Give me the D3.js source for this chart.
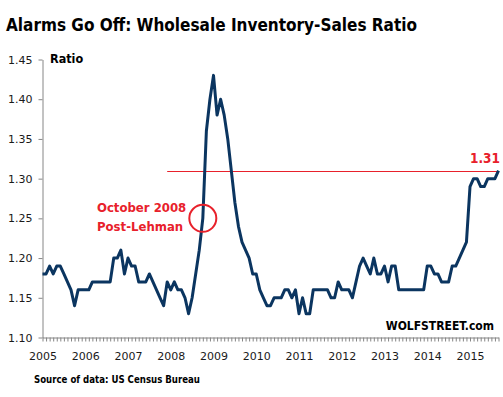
<!DOCTYPE html>
<html>
<head>
<meta charset="utf-8">
<script src="https://cdn.jsdelivr.net/npm/d3@7"></script>
<style>
  body { margin: 0; background: #fff; }
  svg { display: block; font-family: "DejaVu Sans", sans-serif; }
  .bold { font-family: "DejaVu Sans Condensed", "DejaVu Sans", sans-serif; font-weight: bold; }
</style>
</head>
<body>
<div id="chart"></div>
<script>
// wholesale inventory / sales ratio, monthly, Jan 2005 - Sep 2015
const firstMonth = new Date(2005, 0, 1);
const ratio = [
  1.18, 1.18, 1.19, 1.18, 1.19, 1.19, 1.18, 1.17, 1.16, 1.14, 1.16, 1.16, // 2005
  1.16, 1.16, 1.17, 1.17, 1.17, 1.17, 1.17, 1.17, 1.20, 1.20, 1.21, 1.18, // 2006
  1.20, 1.19, 1.19, 1.17, 1.17, 1.17, 1.18, 1.17, 1.16, 1.15, 1.14, 1.17, // 2007
  1.16, 1.17, 1.16, 1.16, 1.15, 1.13, 1.15, 1.18, 1.21, 1.25, 1.36, 1.40, // 2008
  1.43, 1.38, 1.40, 1.38, 1.35, 1.31, 1.27, 1.24, 1.22, 1.21, 1.20, 1.18, // 2009
  1.18, 1.16, 1.15, 1.14, 1.14, 1.15, 1.15, 1.15, 1.16, 1.16, 1.15, 1.16, // 2010
  1.13, 1.15, 1.13, 1.13, 1.16, 1.16, 1.16, 1.16, 1.16, 1.15, 1.15, 1.17, // 2011
  1.16, 1.16, 1.16, 1.15, 1.17, 1.19, 1.20, 1.19, 1.18, 1.20, 1.18, 1.18, // 2012
  1.19, 1.17, 1.19, 1.19, 1.16, 1.16, 1.16, 1.16, 1.16, 1.16, 1.16, 1.16, // 2013
  1.19, 1.19, 1.18, 1.18, 1.17, 1.17, 1.17, 1.19, 1.19, 1.20, 1.21, 1.22, // 2014
  1.29, 1.30, 1.30, 1.29, 1.29, 1.30, 1.30, 1.30, 1.31                    // 2015
];
const yTicks = [1.10, 1.15, 1.20, 1.25, 1.30, 1.35, 1.40, 1.45];
const yearLabels = [2005, 2006, 2007, 2008, 2009, 2010, 2011, 2012, 2013, 2014, 2015];
const refValue = 1.31;
const refFrom = "2007-12";
const eventMonth = "2008-10";
const eventText = ["October 2008", "Post-Lehman"];

const width = 503, height = 397;
const margin = { top: 59.5, right: 4.5, bottom: 59.5, left: 42.5 };
const red = "#e8212b";
const navy = "#0b3560";
const axisGray = "#868686";

const fmt = d3.timeFormat("%Y-%m");
const months = ratio.map((d, i) => fmt(d3.timeMonth.offset(firstMonth, i)));

const svg = d3.select("#chart").append("svg")
  .attr("width", width)
  .attr("height", height);

const x = d3.scalePoint()
  .domain(months)
  .range([margin.left, width - margin.right]);

const y = d3.scaleLinear()
  .domain([1.10, 1.45])
  .range([height - margin.bottom, margin.top]);

// title
svg.append("text")
  .attr("class", "bold")
  .attr("x", 6)
  .attr("y", 30.5)
  .attr("font-size", 18)
  .attr("textLength", 411)
  .attr("lengthAdjust", "spacingAndGlyphs")
  .attr("fill", "#000")
  .text("Alarms Go Off: Wholesale Inventory-Sales Ratio");

// y axis
const yAxis = d3.axisLeft(y)
  .tickValues(yTicks)
  .tickFormat(d3.format(".2f"))
  .tickSize(4)
  .tickSizeOuter(0)
  .tickPadding(6);
const gy = svg.append("g")
  .attr("transform", `translate(${margin.left},0)`)
  .call(yAxis);
gy.selectAll("text").attr("font-size", 11).attr("fill", "#1a1a1a").attr("font-family", "DejaVu Sans");
gy.selectAll("line, path").attr("stroke", axisGray);

svg.append("text")
  .attr("class", "bold")
  .attr("x", 50)
  .attr("y", 63)
  .attr("font-size", 12.5)
  .attr("fill", "#000")
  .text("Ratio");

// x axis: monthly ticks, year labels
const xAxis = d3.axisBottom(x)
  .tickValues(months)
  .tickFormat("")
  .tickSize(4)
  .tickSizeOuter(0);
const gx = svg.append("g")
  .attr("transform", `translate(0,${height - margin.bottom})`)
  .call(xAxis);
gx.selectAll("line, path").attr("stroke", axisGray);

const yearAxis = d3.axisBottom(x)
  .tickValues(yearLabels.map(yr => `${yr}-01`))
  .tickFormat(k => k.slice(0, 4))
  .tickSize(0)
  .tickPadding(15);
const gyear = svg.append("g")
  .attr("transform", `translate(0,${height - margin.bottom})`)
  .call(yearAxis);
gyear.select(".domain").remove();
gyear.selectAll("text").attr("font-size", 11).attr("fill", "#1a1a1a").attr("font-family", "DejaVu Sans");

// reference line at latest value
svg.append("line")
  .attr("x1", x(refFrom))
  .attr("x2", x(months[months.length - 1]))
  .attr("y1", Math.round(y(refValue)) + 0.5)
  .attr("y2", Math.round(y(refValue)) + 0.5)
  .attr("stroke", red)
  .attr("stroke-width", 1);

svg.append("text")
  .attr("class", "bold")
  .attr("x", 500)
  .attr("y", y(refValue) - 8)
  .attr("text-anchor", "end")
  .attr("font-size", 13.5)
  .attr("fill", red)
  .text("1.31");

// the series
const line = d3.line()
  .x((d, i) => x(months[i]))
  .y(d => y(d));

svg.append("path")
  .datum(ratio)
  .attr("d", line)
  .attr("fill", "none")
  .attr("stroke", navy)
  .attr("stroke-width", 3)
  .attr("stroke-linejoin", "round");

// Lehman annotation
const ei = months.indexOf(eventMonth);
svg.append("circle")
  .attr("cx", x(eventMonth))
  .attr("cy", y(ratio[ei]))
  .attr("r", 13.5)
  .attr("fill", "none")
  .attr("stroke", red)
  .attr("stroke-width", 2);

svg.selectAll("text.event")
  .data(eventText)
  .enter()
  .append("text")
  .attr("class", "bold event")
  .attr("x", 97)
  .attr("y", (d, i) => 212 + i * 18.5)
  .attr("font-size", 13)
  .attr("fill", red)
  .text(d => d);

// credits
svg.append("text")
  .attr("class", "bold")
  .attr("x", 494)
  .attr("y", 329.5)
  .attr("text-anchor", "end")
  .attr("font-size", 12)
  .attr("fill", "#000")
  .text("WOLFSTREET.com");

svg.append("text")
  .attr("class", "bold")
  .attr("x", 34)
  .attr("y", 382.5)
  .attr("font-size", 11)
  .attr("textLength", 166)
  .attr("lengthAdjust", "spacingAndGlyphs")
  .attr("fill", "#000")
  .text("Source of data: US Census Bureau");
</script>
</body>
</html>
